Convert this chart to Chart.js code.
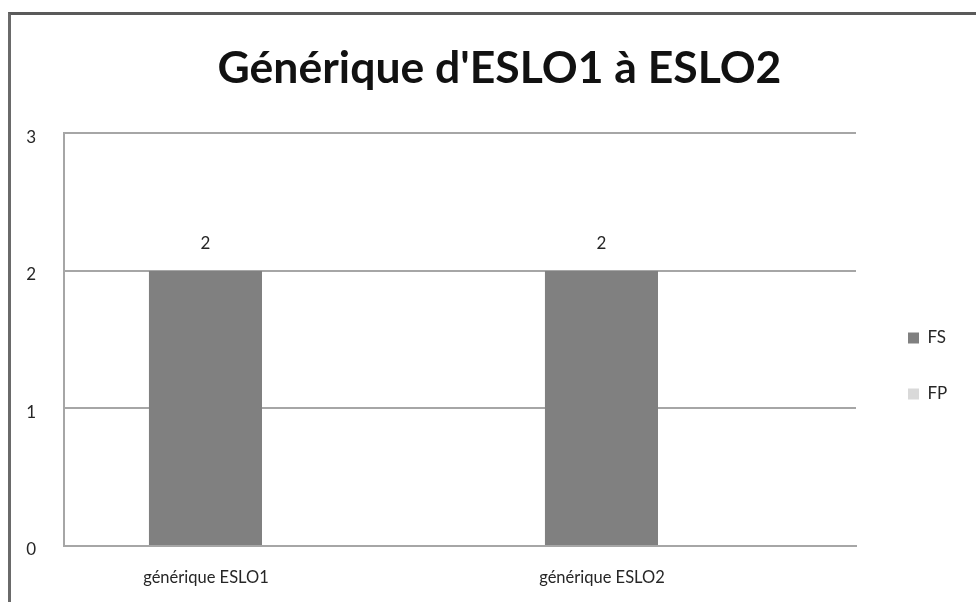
<!DOCTYPE html>
<html>
<head>
<meta charset="utf-8">
<script src="https://cdn.jsdelivr.net/npm/chart.js@4/dist/chart.umd.min.js"></script>
<style>
  html, body { margin: 0; padding: 0; background: #fff; overflow: hidden; }
  #wrap { position: relative; width: 976px; height: 602px; overflow: hidden; }
  #frame { position: absolute; left: 8px; top: 12px; width: 1100px; height: 700px;
           border-top: 3px solid #5a5a5a; border-left: 3px solid #6a6a6a; }
  #c { position: absolute; left: 0; top: 0; }
</style>
</head>
<body>
<div id="wrap">
  <div id="frame"></div>
  <canvas id="c" width="990" height="602"></canvas>
</div>
<script>
const titleText = "Générique d'ESLO1 à ESLO2";
const categories = ["générique ESLO1", "générique ESLO2"];
const seriesNames = ["FS", "FP"];
const fsValues = [2, 2];
const fpValues = [0, 0];
const yTicks = [0, 1, 2, 3];

const FONT = "Lato, 'Liberation Sans', sans-serif";

const dataLabels = {
  id: 'dataLabels',
  afterDatasetsDraw(chart) {
    const ctx = chart.ctx;
    const meta = chart.getDatasetMeta(0);
    ctx.save();
    ctx.font = "17px " + FONT;
    ctx.fillStyle = "#262626";
    ctx.textAlign = "center";
    ctx.textBaseline = "middle";
    meta.data.forEach((bar, i) => {
      ctx.fillText(String(chart.data.datasets[0].data[i]), bar.x, bar.y - 27);
    });
    ctx.restore();
  }
};

// keep a fixed width for the right-hand legend box
const legendWidth = {
  id: 'legendWidth',
  beforeLayout(chart) {
    const lg = chart.legend;
    if (lg && !lg._fixedWidth) {
      const orig = lg.fit.bind(lg);
      lg.fit = function () { orig(); this.width = 110; };
      lg._fixedWidth = true;
    }
  }
};

new Chart(document.getElementById('c'), {
  type: 'bar',
  data: {
    labels: categories,
    datasets: [
      { label: seriesNames[0], data: fsValues, backgroundColor: '#808080',
        categoryPercentage: 0.571, barPercentage: 1.0 },
      { label: seriesNames[1], data: fpValues, backgroundColor: '#d9d9d9',
        categoryPercentage: 0.571, barPercentage: 1.0 }
    ]
  },
  options: {
    responsive: false,
    animation: false,
    devicePixelRatio: 1,
    layout: { padding: { left: 20, right: 11, top: 0, bottom: 0 } },
    plugins: {
      title: {
        display: true, text: titleText, color: '#111',
        font: { family: FONT, size: 44.5, weight: 'bold', lineHeight: 1.2 },
        padding: { top: 42, bottom: 38 }
      },
      legend: {
        display: true, position: 'right',
        title: { display: true, text: ' ', font: { size: 10, lineHeight: 1 },
                 padding: { top: 0, bottom: 120 } },
        labels: {
          font: { family: FONT, size: 17 }, color: '#262626',
          boxWidth: 11, boxHeight: 11, padding: 39
        }
      },
      tooltip: { enabled: false }
    },
    scales: {
      x: {
        grid: { display: false, drawTicks: false },
        border: { display: true, color: '#a6a6a6', width: 2 },
        ticks: { font: { family: FONT, size: 16.5 }, color: '#262626', padding: 22,
                 labelOffset: -56 },
        afterFit(s) { s.height = 56; }
      },
      y: {
        min: 0, max: 3,
        afterBuildTicks(s) { s.ticks = yTicks.map(v => ({ value: v })); },
        grid: { color: '#a6a6a6', lineWidth: 2, drawTicks: false },
        border: { display: true, color: '#a6a6a6', width: 2 },
        ticks: { font: { family: FONT, size: 17 }, color: '#262626', padding: 28,
                 labelOffset: 4 },
        afterFit(s) { s.width = 44; }
      },
      gap: {
        type: 'linear', position: 'right', display: true,
        grid: { display: false, drawTicks: false },
        border: { display: false },
        ticks: { display: false },
        afterFit(s) { s.width = 13; }
      }
    }
  },
  plugins: [dataLabels, legendWidth]
});
</script>
</body>
</html>
